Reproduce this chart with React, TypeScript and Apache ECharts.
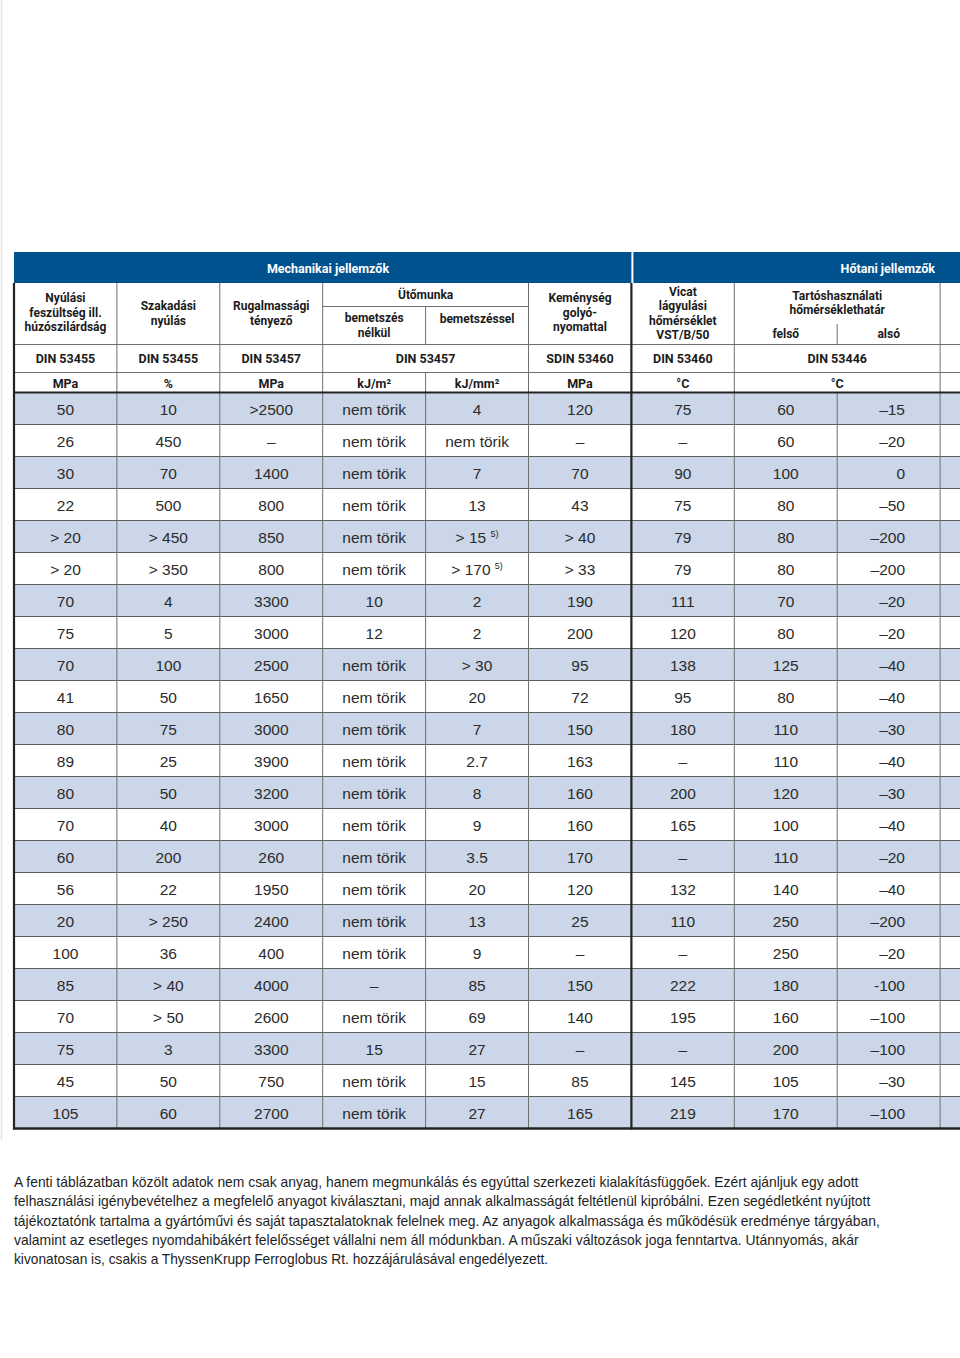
import React, { useEffect, useRef } from "react";
import * as echarts from "echarts";

// ---------- DATA ----------
const groupTitles = ["Mechanikai jellemzők", "Hőtani jellemzők"];
const headerLabels = [
  "Nyúlási\nfeszültség ill.\nhúzószilárdság",
  "Szakadási\nnyúlás",
  "Rugalmassági\ntényező",
  "bemetszés\nnélkül",
  "bemetszéssel",
  "Keménység\ngolyó-\nnyomattal",
  "Vicat\nlágyulási\nhőmérséklet\nVST/B/50",
  "felső",
  "alsó",
];
const impactTitle = "Ütőmunka";
const tempTitle = "Tartóshasználati\nhőmérséklethatár";
const standards = ["DIN 53455", "DIN 53455", "DIN 53457", "DIN 53457", "SDIN 53460", "DIN 53460", "DIN 53446"];
const units = ["MPa", "%", "MPa", "kJ/m²", "kJ/mm²", "MPa", "°C", "°C"];

const yieldStrength = ["50", "26", "30", "22", "> 20", "> 20", "70", "75", "70", "41", "80", "89", "80", "70", "60", "56", "20", "100", "85", "70", "75", "45", "105"];
const elongation = ["10", "450", "70", "500", "> 450", "> 350", "4", "5", "100", "50", "75", "25", "50", "40", "200", "22", "> 250", "36", "> 40", "> 50", "3", "50", "60"];
const modulus = [">2500", "–", "1400", "800", "850", "800", "3300", "3000", "2500", "1650", "3000", "3900", "3200", "3000", "260", "1950", "2400", "400", "4000", "2600", "3300", "750", "2700"];
const impactUnnotched = ["nem törik", "nem törik", "nem törik", "nem törik", "nem törik", "nem törik", "10", "12", "nem törik", "nem törik", "nem törik", "nem törik", "nem törik", "nem törik", "nem törik", "nem törik", "nem törik", "nem törik", "–", "nem törik", "15", "nem törik", "nem törik"];
const impactNotched = ["4", "nem törik", "7", "13", "> 15 {sup|5)}", "> 170 {sup|5)}", "2", "2", "> 30", "20", "7", "2.7", "8", "9", "3.5", "20", "13", "9", "85", "69", "27", "15", "27"];
const hardness = ["120", "–", "70", "43", "> 40", "> 33", "190", "200", "95", "72", "150", "163", "160", "160", "170", "120", "25", "–", "150", "140", "–", "85", "165"];
const vicat = ["75", "–", "90", "75", "79", "79", "111", "120", "138", "95", "180", "–", "200", "165", "–", "132", "110", "–", "222", "195", "–", "145", "219"];
const tempUpper = ["60", "60", "100", "80", "80", "80", "70", "80", "125", "80", "110", "110", "120", "100", "110", "140", "250", "250", "180", "160", "200", "105", "170"];
const tempLower = ["–15", "–20", "0", "–50", "–200", "–200", "–20", "–20", "–40", "–40", "–30", "–40", "–30", "–40", "–20", "–40", "–200", "–20", "-100", "–100", "–100", "–30", "–100"];

const footnoteLines = [
  "A fenti táblázatban közölt adatok nem csak anyag, hanem megmunkálás és egyúttal szerkezeti kialakításfüggőek. Ezért ajánljuk egy adott",
  "felhasználási igénybevételhez a megfelelő anyagot kiválasztani, majd annak alkalmasságát feltétlenül kipróbálni. Ezen segédletként nyújtott",
  "tájékoztatónk tartalma a gyártóművi és saját tapasztalatoknak felelnek meg. Az anyagok alkalmassága és működésük eredménye tárgyában,",
  "valamint az esetleges nyomdahibákért felelősséget vállalni nem áll módunkban. A műszaki változások joga fenntartva. Utánnyomás, akár",
  "kivonatosan is, csakis a ThyssenKrupp Ferroglobus Rt. hozzájárulásával engedélyezett.",
];
const footnoteEnds = [860, 871, 881, 860, 549];

const columns = [yieldStrength, elongation, modulus, impactUnnotched, impactNotched, hardness, vicat, tempUpper, tempLower];

// ---------- LAYOUT ----------
const W = 960;
const H = 1358;
const LEFT = 14;
const RIGHT = 960;
const COL_W = 102.9;
const colX = (i: number) => LEFT + COL_W * i;
const colC = (i: number) => LEFT + COL_W * (i + 0.5);
const BAND_TOP = 252;
const BAND_BOTTOM = 283;
const HEAD_LINE = 344.5;
const STD_LINE = 372.5;
const ROW_TOP = 392.5;
const ROW_H = 32;

const BLUE = "#00528f";
const SHADE = "#cbd6e9";
const THIN = "#6f6f6f";
const THICK = "#232323";
const HEAD_FONT = "Roboto";
const DATA_FONT = "Liberation Sans";

function txt(x: number, y: number, text: string, o: any = {}) {
  const align = o.align || "center";
  return {
    type: "text",
    x,
    y,
    scaleX: o.scaleX || 1,
    silent: true,
    style: {
      text,
      x: 0,
      y: 0,
      fill: o.fill || "#1b1b1b",
      fontFamily: o.fontFamily || HEAD_FONT,
      fontSize: o.fontSize || 12,
      fontWeight: o.fontWeight || "bold",
      lineHeight: o.lineHeight,
      align,
      textAlign: align,
      verticalAlign: "middle",
      textVerticalAlign: "middle",
      rich: o.rich,
    },
  };
}

function ln(x1: number, y1: number, x2: number, y2: number, stroke = THIN, lineWidth = 1) {
  return { type: "line", silent: true, shape: { x1, y1, x2, y2 }, style: { stroke, lineWidth } };
}

function measure(text: string, font: string) {
  const c = document.createElement("canvas");
  const ctx = c.getContext("2d")!;
  ctx.font = font;
  return ctx.measureText(text).width;
}

function buildElements() {
  const els: any[] = [];
  const nRows = yieldStrength.length;
  const tableBottom = ROW_TOP + nRows * ROW_H;

  // faint page edge
  els.push(ln(1.5, 0, 1.5, 1140, "#e2e2e2", 1.5));

  // blue bands
  els.push({ type: "rect", silent: true, shape: { x: LEFT, y: BAND_TOP, width: colX(6) - LEFT, height: BAND_BOTTOM - BAND_TOP }, style: { fill: BLUE } });
  els.push({ type: "rect", silent: true, shape: { x: colX(6) + 2, y: BAND_TOP, width: RIGHT - colX(6) - 2, height: BAND_BOTTOM - BAND_TOP }, style: { fill: BLUE } });
  els.push(txt(328, 268, groupTitles[0], { fill: "#ffffff", fontSize: 12.5 }));
  els.push(txt(935, 268, groupTitles[1], { fill: "#ffffff", fontSize: 12.5, align: "right" }));

  // shaded rows
  for (let r = 0; r < nRows; r += 2) {
    els.push({ type: "rect", silent: true, shape: { x: LEFT, y: ROW_TOP + r * ROW_H, width: RIGHT - LEFT, height: ROW_H }, style: { fill: SHADE } });
  }

  // horizontal lines
  els.push(ln(colX(3), 306.5, colX(5), 306.5));
  els.push(ln(LEFT, HEAD_LINE, RIGHT, HEAD_LINE));
  els.push(ln(LEFT, STD_LINE, RIGHT, STD_LINE));
  for (let r = 1; r < nRows; r++) {
    const y = ROW_TOP + r * ROW_H;
    els.push(ln(LEFT, y, RIGHT, y, "#5e5e5e", 1));
  }

  // vertical thin lines
  [1, 2, 3, 5, 7, 9].forEach((i) => els.push(ln(colX(i), BAND_BOTTOM, colX(i), tableBottom)));
  els.push(ln(colX(4), 306.5, colX(4), HEAD_LINE));
  els.push(ln(colX(4), STD_LINE, colX(4), tableBottom));
  els.push(ln(colX(8), 324, colX(8), HEAD_LINE));
  els.push(ln(colX(8), ROW_TOP, colX(8), tableBottom));

  // thick lines
  els.push(ln(LEFT, BAND_BOTTOM, LEFT, tableBottom + 1, THICK, 2.2));
  els.push(ln(colX(6), BAND_BOTTOM, colX(6), tableBottom + 1, THICK, 2.2));
  els.push(ln(LEFT, ROW_TOP, RIGHT, ROW_TOP, THICK, 2.2));
  els.push(ln(LEFT - 1, tableBottom, RIGHT, tableBottom, THICK, 2.4));

  // header labels
  const lh = 14.5;
  els.push(txt(colC(0), 312.5, headerLabels[0], { lineHeight: lh }));
  els.push(txt(colC(1), 313.5, headerLabels[1], { lineHeight: lh }));
  els.push(txt(colC(2), 313.5, headerLabels[2], { lineHeight: lh }));
  els.push(txt(colX(4), 295, impactTitle));
  els.push(txt(colC(3), 325.5, headerLabels[3], { lineHeight: lh }));
  els.push(txt(colC(4), 318.5, headerLabels[4]));
  els.push(txt(colC(5), 312.5, headerLabels[5], { lineHeight: lh }));
  els.push(txt(colC(6), 313.5, headerLabels[6], { lineHeight: 14.3 }));
  els.push(txt(colX(8), 303, tempTitle, { lineHeight: lh }));
  els.push(txt(colC(7), 334, headerLabels[7]));
  els.push(txt(colC(8), 334, headerLabels[8]));

  // standards row
  const stdX = [colC(0), colC(1), colC(2), colX(4), colC(5), colC(6), colX(8)];
  standards.forEach((s, i) => els.push(txt(stdX[i], 358.5, s, { fontSize: 12.5 })));

  // units row
  const unitX = [colC(0), colC(1), colC(2), colC(3), colC(4), colC(5), colC(6), colX(8)];
  units.forEach((u, i) => els.push(txt(unitX[i], 383, u, { fontSize: 12.5 })));

  // data
  const rich = {
    sup: { fontSize: 9, fontFamily: DATA_FONT, fill: "#2b2b2b", padding: [0, 0, 8, 0] },
  };
  columns.forEach((col, c) => {
    col.forEach((v, r) => {
      const y = ROW_TOP + r * ROW_H + 17;
      const last = c === columns.length - 1;
      els.push(
        txt(last ? 905 : colC(c), y, v, {
          fontFamily: DATA_FONT,
          fontSize: 15.5,
          fontWeight: "normal",
          fill: "#2b2b2b",
          align: last ? "right" : "center",
          rich: v.indexOf("{sup|") >= 0 ? rich : undefined,
        })
      );
    });
  });

  // footnote
  const font = `14px '${DATA_FONT}'`;
  footnoteLines.forEach((line, i) => {
    const w = measure(line, font);
    const sx = w > 0 ? (footnoteEnds[i] - LEFT) / w : 0.88;
    els.push(
      txt(LEFT, 1182 + i * 19.3, line, {
        fontFamily: DATA_FONT,
        fontSize: 14,
        fontWeight: "normal",
        fill: "#1e1e1e",
        align: "left",
        scaleX: sx,
      })
    );
  });

  return els;
}

export default function App() {
  const ref = useRef<HTMLDivElement>(null);
  useEffect(() => {
    document.body.style.margin = "0";
    if (!ref.current) return;
    const chart = echarts.init(ref.current, null, { renderer: "svg", width: W, height: H });
    chart.setOption({
      animation: false,
      backgroundColor: "#ffffff",
      graphic: { elements: buildElements() },
    });
    return () => chart.dispose();
  }, []);
  return <div ref={ref} style={{ width: W, height: H }} />;
}
